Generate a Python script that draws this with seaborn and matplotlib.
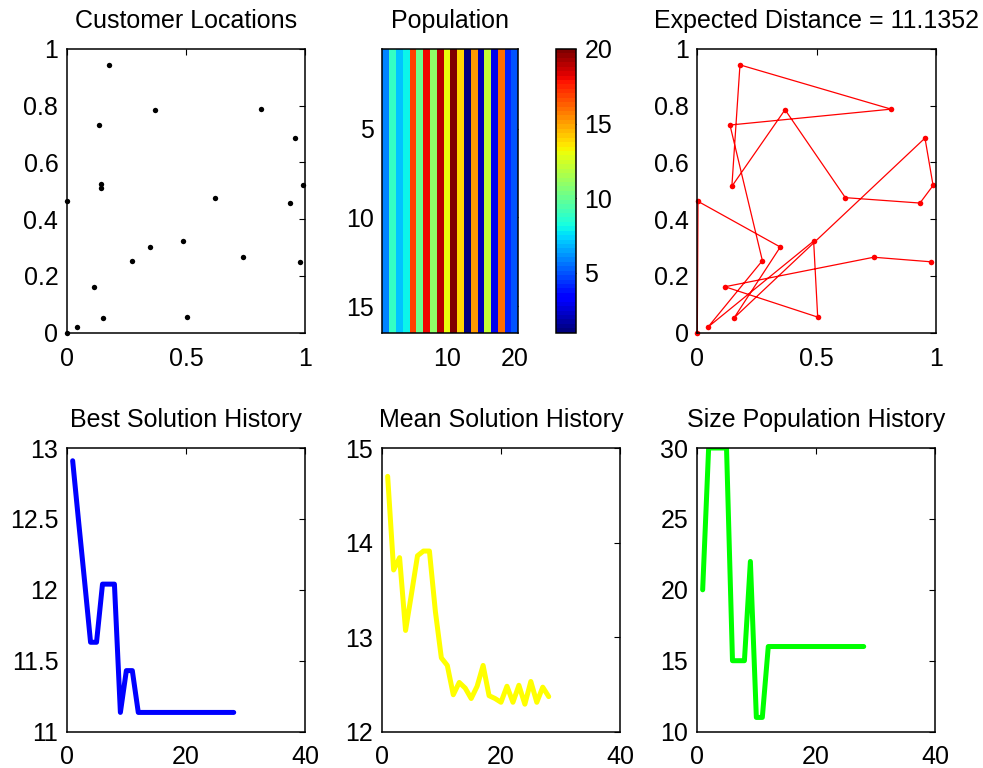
import numpy as np
import pandas as pd
import matplotlib
matplotlib.use('Agg')
import matplotlib.pyplot as plt
import seaborn as sns

# ---------------- data ----------------
cust_x = [0.000, 0.045, 0.154, 0.505, 0.116, 0.979, 0.273, 0.740, 0.348, 0.488,
          0.934, 0.003, 0.621, 0.145, 0.989, 0.145, 0.955, 0.137, 0.368, 0.813, 0.179]
cust_y = [0.000, 0.020, 0.052, 0.055, 0.162, 0.250, 0.254, 0.266, 0.302, 0.323,
          0.457, 0.463, 0.476, 0.509, 0.519, 0.523, 0.686, 0.732, 0.786, 0.788, 0.944]
route_order = [0, 11, 8, 2, 16, 14, 10, 12, 18, 15, 13, 20, 19, 17, 6, 1, 9, 3, 4, 7, 5, 0]

population_row = [6, 9, 7, 8, 17, 10, 18, 11, 19, 13, 20, 14, 1, 15, 2, 12, 3, 16, 4, 5]
n_population = 16

generations = list(range(1, 29))
best_hist = [12.91, 12.48, 12.06, 11.63, 11.63, 12.04, 12.04, 12.04, 11.1352, 11.43, 11.43] + [11.1352] * 17
mean_hist = [14.70, 13.71, 13.84, 13.07, 13.46, 13.86, 13.91, 13.91, 13.27, 12.78,
             12.70, 12.39, 12.52, 12.46, 12.35, 12.48, 12.70, 12.38, 12.35, 12.31,
             12.48, 12.31, 12.49, 12.29, 12.53, 12.31, 12.47, 12.37]
size_hist = [20, 30, 30, 30, 30, 15, 15, 15, 22, 11, 11] + [16] * 17
expected_distance = 11.1352

# ---------------- style ----------------
sns.set_style('white')
plt.rcParams['font.family'] = ['Liberation Sans', 'DejaVu Sans']
plt.rcParams['font.size'] = 18
plt.rcParams['text.color'] = 'black'
plt.rcParams['axes.titlecolor'] = 'black'
plt.rcParams['xtick.color'] = 'black'
plt.rcParams['ytick.color'] = 'black'
FS = 18
TPAD = 15

fig = plt.figure(figsize=(9.83, 7.68), dpi=100)
W, H = 983.0, 768.0

def add_ax(x0, x1, ytop, ybot):
    return fig.add_axes([x0 / W, (H - ybot) / H, (x1 - x0) / W, (ybot - ytop) / H])

def style(ax):
    for s in ax.spines.values():
        s.set_visible(True)
        s.set_color('black')
        s.set_linewidth(1.1)
    ax.tick_params(direction='in', top=True, right=True, length=4, width=0.8,
                   labelsize=FS, colors='black')
    ax.tick_params(axis='x', pad=10)
    ax.tick_params(axis='y', pad=6)
    ax.set_facecolor('white')

ytop1, ybot1 = 49, 332.7
ytop2, ybot2 = 448, 731.6

# Customer locations
ax1 = add_ax(66.7, 305.3, ytop1, ybot1)
cdf = pd.DataFrame({'x': cust_x, 'y': cust_y})
sns.scatterplot(data=cdf, x='x', y='y', ax=ax1, color='black', s=15, edgecolor='black',
                linewidth=0, clip_on=False, legend=False)
ax1.set_xlim(0, 1); ax1.set_ylim(0, 1)
ax1.set_xticks([0, 0.5, 1]); ax1.set_xticklabels(['0', '0.5', '1'])
ax1.set_yticks([0, 0.2, 0.4, 0.6, 0.8, 1]); ax1.set_yticklabels(['0', '0.2', '0.4', '0.6', '0.8', '1'])
ax1.set_xlabel(''); ax1.set_ylabel('')
ax1.set_title('Customer Locations', fontsize=FS, pad=TPAD, color='black')
style(ax1)

# Population heatmap
ax2 = add_ax(382.3, 518.3, ytop1, ybot1)
axc = add_ax(556, 576, ytop1, ybot1)
pop = pd.DataFrame(np.tile(population_row, (n_population, 1)))
jet64 = matplotlib.colormaps['jet'].resampled(64)
sns.heatmap(pop, ax=ax2, cbar_ax=axc, cmap=jet64, vmin=1, vmax=20,
            xticklabels=False, yticklabels=False)
ax2.set_xticks([9.5, 19.5]); ax2.set_xticklabels(['10', '20'], rotation=0)
ax2.set_yticks([4.5, 9.5, 14.5]); ax2.set_yticklabels(['5', '10', '15'], rotation=0)
ax2.set_title('Population', fontsize=FS, pad=TPAD, color='black')
style(ax2)
cb = ax2.collections[0].colorbar
cb.outline.set_linewidth(1.1)
cb.outline.set_edgecolor('black')
cb.set_ticks([5, 10, 15, 20])
cb.set_ticklabels(['5', '10', '15', '20'])
axc.tick_params(direction='in', length=4, width=0.8, labelsize=FS, pad=6, right=True, left=True,
                labelleft=False, labelright=True, colors='black')

# Route
ax3 = add_ax(697.3, 935.7, ytop1, ybot1)
rdf = pd.DataFrame({'order': range(len(route_order)),
                    'x': [cust_x[i] for i in route_order],
                    'y': [cust_y[i] for i in route_order]})
sns.lineplot(data=rdf, x='x', y='y', sort=False, ax=ax3, color='red', linewidth=0.9,
             marker='o', markersize=4, markeredgewidth=0, clip_on=False)
ax3.set_xlim(0, 1); ax3.set_ylim(0, 1)
ax3.set_xticks([0, 0.5, 1]); ax3.set_xticklabels(['0', '0.5', '1'])
ax3.set_yticks([0, 0.2, 0.4, 0.6, 0.8, 1]); ax3.set_yticklabels(['0', '0.2', '0.4', '0.6', '0.8', '1'])
ax3.set_xlabel(''); ax3.set_ylabel('')
ax3.set_title('Expected Distance = %.4f' % expected_distance, fontsize=FS, pad=TPAD, color='black')
style(ax3)

# History plots
hist = pd.DataFrame({'gen': generations, 'best': best_hist, 'mean': mean_hist, 'size': size_hist})
specs = [
    (66.7, 305.3, 'best', (0, 0, 1), 'Best Solution History', (11, 13),
     [11, 11.5, 12, 12.5, 13], ['11', '11.5', '12', '12.5', '13']),
    (381.7, 620.3, 'mean', (1, 1, 0), 'Mean Solution History', (12, 15),
     [12, 13, 14, 15], ['12', '13', '14', '15']),
    (696.7, 935.3, 'size', (0, 1, 0), 'Size Population History', (10, 30),
     [10, 15, 20, 25, 30], ['10', '15', '20', '25', '30']),
]
for x0, x1, col, color, title, ylim, yt, ytl in specs:
    ax = add_ax(x0, x1, ytop2, ybot2)
    sns.lineplot(data=hist, x='gen', y=col, ax=ax, color=color, linewidth=3.6)
    ax.set_xlim(0, 40); ax.set_ylim(*ylim)
    ax.set_xticks([0, 20, 40]); ax.set_xticklabels(['0', '20', '40'])
    ax.set_yticks(yt); ax.set_yticklabels(ytl)
    ax.set_xlabel(''); ax.set_ylabel('')
    ax.set_title(title, fontsize=FS, pad=TPAD, color='black')
    style(ax)

fig.savefig('out.png', dpi=100, facecolor='white')
